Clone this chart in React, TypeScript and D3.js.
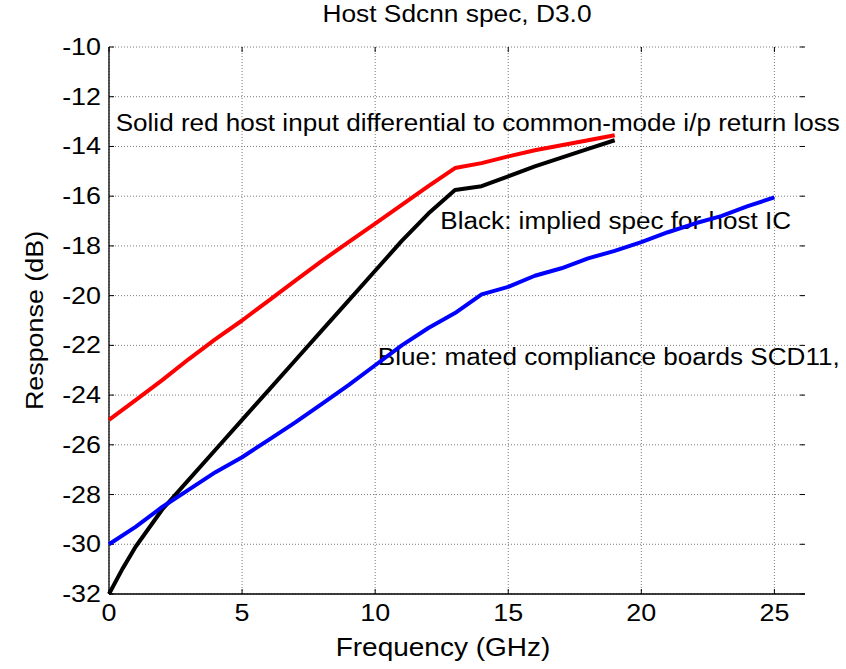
import React from "react";
import { scaleLinear, line } from "d3";

// chart data
const freqRed = [0, 1, 2, 3, 4, 5, 6, 7, 8, 9, 10, 11, 12, 13, 14, 15, 16, 17, 18, 19];
const redDb = [-25, -24.2, -23.4, -22.55, -21.75, -21.0, -20.2, -19.4, -18.6, -17.85, -17.1, -16.35, -15.6, -14.87, -14.67, -14.4, -14.15, -13.95, -13.75, -13.55];

const freqBlack = [0, 0.5, 1, 2, 3, 4, 5, 6, 7, 8, 9, 10, 11, 12, 13, 14, 15, 16, 17, 18, 19];
const blackDb = [-32, -31.0, -30.1, -28.6, -27.4, -26.2, -25.0, -23.8, -22.6, -21.4, -20.2, -19.0, -17.8, -16.7, -15.75, -15.6, -15.2, -14.8, -14.45, -14.1, -13.75];

const freqBlue = [0, 1, 2, 3, 4, 5, 6, 7, 8, 9, 10, 11, 12, 13, 14, 15, 16, 17, 18, 19, 20, 21, 22, 23, 24, 25];
const blueDb = [-30, -29.3, -28.5, -27.8, -27.1, -26.5, -25.8, -25.1, -24.35, -23.6, -22.8, -22.0, -21.3, -20.7, -19.95, -19.65, -19.2, -18.9, -18.5, -18.2, -17.85, -17.45, -17.1, -16.8, -16.4, -16.05];

const xTicks = [0, 5, 10, 15, 20, 25];
const yTicks = [-10, -12, -14, -16, -18, -20, -22, -24, -26, -28, -30, -32];

const title = "Host Sdcnn spec, D3.0";
const xLabel = "Frequency (GHz)";
const yLabel = "Response (dB)";
const notes = [
  { text: "Solid red host input differential to common-mode i/p return loss", f: 0.25, db: -13.38 },
  { text: "Black: implied spec for host IC", f: 12.45, db: -17.32 },
  { text: "Blue: mated compliance boards SCD11,", f: 10.1, db: -22.79 },
];

const width = 846;
const height = 669;
const margin = { top: 47, right: 41, bottom: 75, left: 109 };
const xMax = 26.15;

const x = scaleLinear().domain([0, xMax]).range([margin.left, width - margin.right]);
const y = scaleLinear().domain([-32, -10]).range([height - margin.bottom, margin.top]);

const font = "Liberation Sans, Arial, Helvetica, sans-serif";
const stretch = 1.12;

function SText({ x0, y0, size, anchor = "start", rotate = 0, children }) {
  return (
    <text
      transform={`translate(${x0},${y0}) rotate(${rotate}) scale(${stretch},1)`}
      fontSize={size}
      fontFamily={font}
      textAnchor={anchor}
      fill="#000"
    >
      {children}
    </text>
  );
}

export default function App() {
  const path = line()
    .x((d) => x(d[0]))
    .y((d) => y(d[1]));
  const series = [
    { f: freqRed, v: redDb, color: "#ff0000" },
    { f: freqBlack, v: blackDb, color: "#000000" },
    { f: freqBlue, v: blueDb, color: "#0000ff" },
  ];
  const [x0, x1] = x.range();
  const [y0, y1] = y.range();

  return (
    <svg
      width={width}
      height={height}
      style={{ position: "absolute", left: 0, top: 0, background: "#fff" }}
    >
      <rect width={width} height={height} fill="#fff" />
      {/* grid */}
      <g stroke="#7a7a7a" strokeWidth={1} strokeDasharray="1 2">
        {xTicks.map((t) => (
          <line key={"gx" + t} x1={x(t)} x2={x(t)} y1={y1} y2={y0} />
        ))}
        {yTicks.map((t) => (
          <line key={"gy" + t} x1={x0} x2={x1} y1={y(t)} y2={y(t)} />
        ))}
      </g>
      {/* tick marks */}
      <g stroke="#000" strokeWidth={1}>
        {xTicks.map((t) => (
          <g key={"tx" + t}>
            <line x1={x(t)} x2={x(t)} y1={y0} y2={y0 - 5} />
            <line x1={x(t)} x2={x(t)} y1={y1} y2={y1 + 5} />
          </g>
        ))}
        {yTicks.map((t) => (
          <g key={"ty" + t}>
            <line x1={x0} x2={x0 + 5} y1={y(t)} y2={y(t)} />
            <line x1={x1} x2={x1 - 5} y1={y(t)} y2={y(t)} />
          </g>
        ))}
      </g>
      {/* axes */}
      <line x1={x0} x2={x0} y1={y1} y2={y0} stroke="#000" strokeWidth={1.3} />
      <line x1={x0} x2={x1} y1={y0} y2={y0} stroke="#000" strokeWidth={1.3} />

      {/* tick labels */}
      {xTicks.map((t) => (
        <SText key={"lx" + t} x0={x(t)} y0={y0 + 27} size={24} anchor="middle">
          {t}
        </SText>
      ))}
      {yTicks.map((t) => (
        <SText key={"ly" + t} x0={x0 - 8} y0={y(t) + 8} size={24} anchor="end">
          {t}
        </SText>
      ))}

      {/* annotations */}
      {notes.map((n) => (
        <SText key={n.text} x0={x(n.f)} y0={y(n.db)} size={23.3}>
          {n.text}
        </SText>
      ))}

      {/* series */}
      {series.map((s) => (
        <path
          key={s.color}
          d={path(s.f.map((f, i) => [f, s.v[i]]))}
          fill="none"
          stroke={s.color}
          strokeWidth={4}
          strokeLinejoin="round"
        />
      ))}

      <SText x0={457} y0={22} size={23.5} anchor="middle">
        {title}
      </SText>
      <SText x0={443} y0={656} size={25} anchor="middle">
        {xLabel}
      </SText>
      <SText x0={43} y0={(y0 + y1) / 2} size={24} anchor="middle" rotate={-90}>
        {yLabel}
      </SText>
    </svg>
  );
}
